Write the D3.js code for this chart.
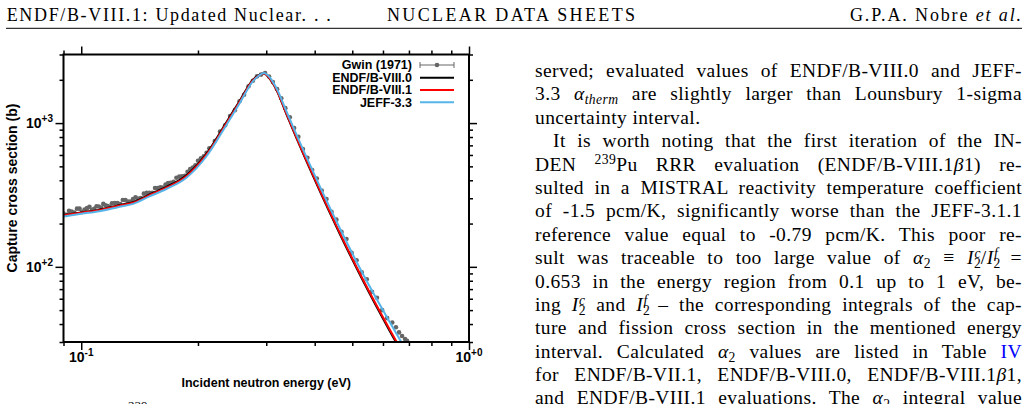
<!DOCTYPE html>
<html>
<head>
<meta charset="utf-8">
<script src="https://cdn.jsdelivr.net/npm/d3@7"></script>
<style>
body { margin: 0; background: #fff; width: 1033px; height: 404px; overflow: hidden; position: relative; }
svg { position: absolute; left: 0; top: 0; }
.col { position: absolute; left: 535px; top: 59px; width: 487px; font-family: "Liberation Serif", serif; font-size: 19.5px; letter-spacing: 0.4px; color: #000; }
.ln { width: 487px; height: 23.4px; line-height: 23.4px; text-align: justify; text-align-last: justify; }
.ln.last { text-align-last: left; }
.ln.ind { text-indent: 18px; }
.sb { font-size: 0.7em; position: relative; top: 0.3em; }
.sp { font-size: 0.7em; position: relative; top: -0.45em; }
.sp.o { margin-left: -0.5em; }
.blue { color: #0000ff; }
</style>
</head>
<body>
<script>
// cross sections in barns vs incident energy in eV
var energy = [0.09, 0.1, 0.1115, 0.125, 0.136, 0.15, 0.1658, 0.1867, 0.2104, 0.237, 0.2564, 0.2777,
    0.287, 0.296, 0.305, 0.3191, 0.3387, 0.3594, 0.3776, 0.4129, 0.465, 0.534, 0.626, 0.7];
var endf80 = [229, 239, 250, 268, 282, 319, 360, 434, 614, 1018, 1432, 2015,
    2155, 2222, 2060, 1690, 1140, 780, 572, 334, 168, 79, 35.4, 20.8];
var endf81 = [228, 238, 248, 266, 279, 315, 355, 427, 603, 1000, 1411, 1995,
    2140, 2215, 2070, 1701, 1153, 790, 581, 339, 171, 80.6, 36.2, 21.3];
var jeff33 = [224, 234, 244, 261, 274, 309, 348, 417, 588, 975, 1380, 1965,
    2135, 2235, 2110, 1740, 1195, 825, 611, 360, 184, 88, 40.8, 24.3];

// Gwin (1971) measurement
var gwinE = [0.090, 0.0915, 0.093, 0.0945, 0.096, 0.0975, 0.099, 0.1005, 0.102, 0.1035, 0.105, 0.1065,
    0.108, 0.1095, 0.111, 0.1125, 0.114, 0.1155, 0.117, 0.1185, 0.120, 0.122, 0.124, 0.126, 0.128, 0.130,
    0.132, 0.134, 0.136, 0.138, 0.140, 0.1425, 0.145, 0.1475, 0.150, 0.1525, 0.155, 0.1575, 0.160, 0.1625,
    0.165, 0.1675, 0.170, 0.173, 0.176, 0.179, 0.182, 0.185, 0.188, 0.191, 0.194, 0.197, 0.200, 0.2035,
    0.207, 0.2105, 0.214, 0.221, 0.228, 0.235, 0.242, 0.249, 0.256, 0.263, 0.270, 0.277, 0.284, 0.291, 0.298,
    0.305, 0.312, 0.320, 0.328, 0.336, 0.345, 0.354, 0.363, 0.373, 0.383, 0.394, 0.405, 0.417, 0.429,
    0.442, 0.455, 0.469, 0.483, 0.498, 0.513, 0.529, 0.545, 0.562, 0.579, 0.597, 0.615, 0.634,
    0.648, 0.660, 0.672, 0.684, 0.692];
var gwinXs = [235, 230, 245, 242, 239, 254, 254, 241, 250, 256, 262, 249,
    253, 264, 263, 257, 274, 268, 265, 262, 277, 278, 278, 273, 292, 291,
    285, 285, 296, 304, 299, 301, 323, 327, 328, 327, 353, 353, 357, 356,
    374, 383, 384, 390, 417, 424, 427, 430, 458, 479, 491, 508, 547, 570,
    587, 621, 668, 750, 873, 965, 1118, 1230, 1419, 1576, 1801, 1970, 2114, 2175, 2232,
    2111, 1931, 1722, 1489, 1270, 1097, 925, 803, 661, 574, 471, 411, 339, 296,
    241, 213, 175, 156, 125, 111, 91.5, 82, 67, 61, 50, 44, 41,
    38, 35, 33, 31.5, 30.6];

var legendLabels = ["Gwin (1971)", "ENDF/B-VIII.0", "ENDF/B-VIII.1", "JEFF-3.3"];
var xMajor = [0.1, 1], xMajorLabels = ["-1", "+0"];
var xMinor = [0.09, 0.2, 0.3, 0.4, 0.5, 0.6, 0.7, 0.8, 0.9];
var yMajor = [100, 1000], yMajorLabels = ["+2", "+3"];
var yMinor = [30, 40, 50, 60, 70, 80, 90, 200, 300, 400, 500, 600, 700, 800, 900, 2000, 3000];

var headLeft = "ENDF/B-VIII.1: Updated Nuclear. . .";
var headMid = "NUCLEAR DATA SHEETS";

var bodyLines = [
    "served; evaluated values of ENDF/B-VIII.0 and JEFF-",
    "3.3 <i>α<span class='sb'>therm</span></i> are slightly larger than Lounsbury 1-sigma",
    "uncertainty interval.",
    "It is worth noting that the first iteration of the IN-",
    "DEN <span class='sp'>239</span>Pu RRR evaluation (ENDF/B-VIII.1<i>β</i>1) re-",
    "sulted in a MISTRAL reactivity temperature coefficient",
    "of -1.5 pcm/K, significantly worse than the JEFF-3.1.1",
    "reference value equal to -0.79 pcm/K. This poor re-",
    "sult was traceable to too large value of <i>α</i><span class='sb'>2</span> ≡ <i>I</i><span class='sb'>2</span><span class='sp o'><i>c</i></span>/<i>I</i><span class='sb'>2</span><span class='sp o'><i>f</i></span> =",
    "0.653 in the energy region from 0.1 up to 1 eV, be-",
    "ing <i>I</i><span class='sb'>2</span><span class='sp o'><i>c</i></span> and <i>I</i><span class='sb'>2</span><span class='sp o'><i>f</i></span> – the corresponding integrals of the cap-",
    "ture and fission cross section in the mentioned energy",
    "interval. Calculated <i>α</i><span class='sb'>2</span> values are listed in Table <span class='blue'>IV</span>",
    "for ENDF/B-VII.1, ENDF/B-VIII.0, ENDF/B-VIII.1<i>β</i>1,",
    "and ENDF/B-VIII.1 evaluations. The <i>α</i><span class='sb'>2</span> integral value"
];
var paraEnd = 2, paraStart = 3;

var w = 1033, h = 404;
var pLeft = 63.5, pRight = 469, pTop = 54.5, pBottom = 342;

var svg = d3.select("body").append("svg")
    .attr("width", w)
    .attr("height", h);

// running header
var hd = svg.append("g").style("font-family", "'Liberation Serif', serif").style("font-size", "18px");
hd.append("text").attr("x", 6.7).attr("y", 20.7).attr("textLength", 324).attr("lengthAdjust", "spacing").text(headLeft);
hd.append("text").attr("x", 387).attr("y", 20.7).attr("textLength", 248).attr("lengthAdjust", "spacing").text(headMid);
var au = hd.append("text").attr("x", 850).attr("y", 20.7).attr("textLength", 171).attr("lengthAdjust", "spacing");
au.append("tspan").text("G.P.A. Nobre ");
au.append("tspan").style("font-style", "italic").text("et al.");
svg.append("line").attr("x1", 6).attr("x2", 1022).attr("y1", 28.3).attr("y2", 28.3)
    .attr("stroke", "#000").attr("stroke-width", 1);

// scales
var xScale = d3.scaleLog().domain([0.09, 1]).range([pLeft, pRight]);
var yScale = d3.scaleLog().domain([30, 3000]).range([pBottom, pTop]);

svg.append("clipPath").attr("id", "plotclip").append("rect")
    .attr("x", pLeft).attr("y", pTop).attr("width", pRight - pLeft).attr("height", pBottom - pTop);

var plot = svg.append("g").attr("clip-path", "url(#plotclip)");

// Gwin points with small energy error bars
var gwin = gwinE.map(function (e, i) { return { e: e, xs: gwinXs[i] }; });
plot.selectAll(".eb").data(gwin).enter().append("line")
    .attr("x1", function (d) { return xScale(d.e * 0.99); })
    .attr("x2", function (d) { return xScale(d.e * 1.01); })
    .attr("y1", function (d) { return yScale(d.xs); })
    .attr("y2", function (d) { return yScale(d.xs); })
    .attr("stroke", "#666").attr("stroke-width", 1);
plot.selectAll(".pt").data(gwin).enter().append("circle")
    .attr("cx", function (d) { return xScale(d.e); })
    .attr("cy", function (d) { return yScale(d.xs); })
    .attr("r", 2.3)
    .attr("fill", "#666");

var line = d3.line()
    .x(function (d) { return xScale(d[0]); })
    .y(function (d) { return yScale(d[1]); })
    .curve(d3.curveMonotoneX);

var series = [
    { vals: endf80, color: "#000000" },
    { vals: endf81, color: "#ff0000" },
    { vals: jeff33, color: "#56b4e9" }
];
series.forEach(function (s) {
    plot.append("path")
        .datum(energy.map(function (e, i) { return [e, s.vals[i]]; }))
        .attr("fill", "none")
        .attr("stroke", s.color)
        .attr("stroke-width", 2)
        .attr("d", line);
});

// axes: minor and major ticks on all four sides, pointing outward
function styleAxis(g) {
    g.select(".domain").remove();
    g.selectAll("text").remove();
    g.selectAll("line").attr("stroke", "#000").attr("stroke-width", 1.5);
}
[[d3.axisBottom, xScale, "translate(0," + pBottom + ")", xMinor, xMajor],
 [d3.axisTop, xScale, "translate(0," + pTop + ")", xMinor, xMajor],
 [d3.axisLeft, yScale, "translate(" + pLeft + ",0)", yMinor, yMajor],
 [d3.axisRight, yScale, "translate(" + pRight + ",0)", yMinor, yMajor]].forEach(function (a) {
    svg.append("g").attr("transform", a[2]).call(a[0](a[1]).tickValues(a[3]).tickSize(4)).call(styleAxis);
    svg.append("g").attr("transform", a[2]).call(a[0](a[1]).tickValues(a[4]).tickSize(8)).call(styleAxis);
});

// frame
svg.append("rect")
    .attr("x", pLeft).attr("y", pTop).attr("width", pRight - pLeft).attr("height", pBottom - pTop)
    .attr("fill", "none").attr("stroke", "#000").attr("stroke-width", 2);

var lab = svg.append("g").style("font-family", "'Liberation Sans', Arial, sans-serif").style("font-weight", "bold").attr("fill", "#000");

// tick labels
xMajor.forEach(function (v, i) {
    var t = lab.append("text").attr("x", xScale(v)).attr("y", 362).attr("text-anchor", "middle").style("font-size", "14px");
    t.append("tspan").text("10");
    t.append("tspan").attr("dy", -6).style("font-size", "10px").text(xMajorLabels[i]);
});
yMajor.forEach(function (v, i) {
    var t = lab.append("text").attr("x", 53).attr("y", yScale(v) + 5).attr("text-anchor", "end").style("font-size", "14px");
    t.append("tspan").text("10");
    t.append("tspan").attr("dy", -6).style("font-size", "10px").text(yMajorLabels[i]);
});

// axis titles
lab.append("text").attr("x", (pLeft + pRight) / 2).attr("y", 387).attr("text-anchor", "middle")
    .style("font-size", "12.5px").text("Incident neutron energy (eV)");
lab.append("text").attr("transform", "translate(17,188) rotate(-90)").attr("text-anchor", "middle")
    .style("font-size", "14px").text("Capture cross section (b)");

// legend
var lgY = [65, 77.7, 90, 102.3];
var lgColors = ["#666", "#000000", "#ff0000", "#56b4e9"];
legendLabels.forEach(function (name, i) {
    lab.append("text").attr("x", 412).attr("y", lgY[i] + 4.3).attr("text-anchor", "end")
        .style("font-size", "12.5px").text(name);
    svg.append("line").attr("x1", 420).attr("x2", 454).attr("y1", lgY[i]).attr("y2", lgY[i])
        .attr("stroke", lgColors[i]).attr("stroke-width", i === 0 ? 1 : 2);
});
[420, 454].forEach(function (xx) {
    svg.append("line").attr("x1", xx).attr("x2", xx).attr("y1", lgY[0] - 3).attr("y2", lgY[0] + 3)
        .attr("stroke", "#666").attr("stroke-width", 1);
});
svg.append("circle").attr("cx", 437).attr("cy", lgY[0]).attr("r", 2.3).attr("fill", "#666");

// caption (only the top of it is on the page)
svg.append("text").attr("x", 128).attr("y", 410).style("font-family", "'Liberation Serif', serif")
    .style("font-size", "13px").text("239");

// right column text
var col = d3.select("body").append("div").attr("class", "col");
col.selectAll(".ln").data(bodyLines).enter().append("div")
    .attr("class", function (d, i) {
        return "ln" + (i === paraEnd ? " last" : "") + (i === paraStart ? " ind" : "");
    })
    .html(function (d) { return d; });
</script>
</body>
</html>
